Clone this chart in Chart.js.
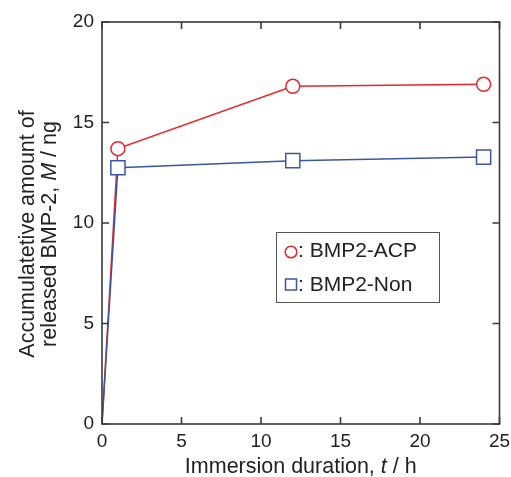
<!DOCTYPE html>
<html>
<head>
<meta charset="utf-8">
<script src="https://cdn.jsdelivr.net/npm/chart.js@4"></script>
<style>
  html, body { margin: 0; padding: 0; background: #fff; }
  #wrap { width: 511px; height: 477px; }
</style>
</head>
<body>
<div id="wrap"><canvas id="chart" width="511" height="477"></canvas></div>
<script>
const hours = [0, 1, 12, 24];
const acpValues = [0, 13.7, 16.8, 16.9];
const nonValues = [0, 12.75, 13.1, 13.28];
const xTicks = [0, 5, 10, 15, 20, 25];
const yTicks = [0, 5, 10, 15, 20];

const RED = '#e8262b';
const BLUE = '#3b56a6';
const AXIS = '#3a3a3a';
const FONT = '"Liberation Sans", Arial, sans-serif';

function toPoints(values) {
  return hours.map((h, i) => ({ x: h, y: values[i] }));
}

// draws box, inward ticks, axis titles and the legend box
const framePlugin = {
  id: 'frame',
  afterDraw(chart) {
    const ctx = chart.ctx;
    const area = chart.chartArea;
    const xs = chart.scales.x;
    const ys = chart.scales.y;
    ctx.save();
    ctx.strokeStyle = AXIS;
    ctx.lineWidth = 1.6;
    ctx.strokeRect(area.left, area.top, area.right - area.left, area.bottom - area.top);

    const tick = 7;
    ctx.beginPath();
    xTicks.forEach((v) => {
      const px = xs.getPixelForValue(v);
      ctx.moveTo(px, area.bottom);
      ctx.lineTo(px, area.bottom - tick);
      ctx.moveTo(px, area.top);
      ctx.lineTo(px, area.top + tick);
    });
    yTicks.forEach((v) => {
      const py = ys.getPixelForValue(v);
      ctx.moveTo(area.left, py);
      ctx.lineTo(area.left + tick, py);
      ctx.moveTo(area.right, py);
      ctx.lineTo(area.right - tick, py);
    });
    ctx.stroke();

    // x title with italic t
    ctx.fillStyle = '#222';
    ctx.textBaseline = 'alphabetic';
    const parts = [
      ['Immersion duration, ', 'normal'],
      ['t', 'italic'],
      [' / h', 'normal']
    ];
    drawMixed(ctx, parts, (area.left + area.right) / 2, 473, 21.5);

    // y title, two lines, rotated
    ctx.save();
    ctx.translate(0, 234);
    ctx.rotate(-Math.PI / 2);
    drawMixed(ctx, [['Accumulatetive amount of', 'normal']], 0, 34, 21.5);
    drawMixed(ctx, [['released BMP-2, ', 'normal'], ['M', 'italic'], [' / ng', 'normal']], 0, 56, 21.5);
    ctx.restore();

    // legend
    ctx.strokeStyle = '#555';
    ctx.lineWidth = 1;
    ctx.strokeRect(276.5, 232.5, 163, 70);
    ctx.lineWidth = 1.5;
    ctx.strokeStyle = RED;
    ctx.beginPath();
    ctx.arc(291, 252, 5.8, 0, Math.PI * 2);
    ctx.stroke();
    ctx.strokeStyle = BLUE;
    ctx.strokeRect(285.5, 279, 11, 11);
    ctx.fillStyle = '#222';
    ctx.font = '21px ' + FONT;
    ctx.textAlign = 'left';
    ctx.textBaseline = 'middle';
    ctx.fillText(': BMP2-ACP', 298, 251);
    ctx.fillText(': BMP2-Non', 298, 285);
    ctx.restore();
  }
};

function drawMixed(ctx, parts, cx, y, size) {
  let total = 0;
  parts.forEach(([text, style]) => {
    ctx.font = style + ' ' + size + 'px ' + FONT;
    total += ctx.measureText(text).width;
  });
  let x = cx - total / 2;
  ctx.textAlign = 'left';
  parts.forEach(([text, style]) => {
    ctx.font = style + ' ' + size + 'px ' + FONT;
    ctx.fillText(text, x, y);
    x += ctx.measureText(text).width;
  });
}

new Chart(document.getElementById('chart'), {
  type: 'line',
  data: {
    datasets: [
      {
        label: 'BMP2-Non',
        data: toPoints(nonValues),
        borderColor: BLUE,
        borderWidth: 1.5,
        backgroundColor: '#fff',
        pointStyle: 'rect',
        pointRadius: [0, 10, 10, 10],
        pointBorderWidth: 1.5,
        pointBorderColor: BLUE,
        pointBackgroundColor: '#fff',
        tension: 0
      },
      {
        label: 'BMP2-ACP',
        data: toPoints(acpValues),
        borderColor: RED,
        borderWidth: 1.5,
        backgroundColor: '#fff',
        pointStyle: 'circle',
        pointRadius: [0, 7, 7, 7],
        pointBorderWidth: 1.5,
        pointBorderColor: RED,
        pointBackgroundColor: '#fff',
        tension: 0
      }
    ]
  },
  options: {
    responsive: false,
    animation: false,
    layout: { padding: { top: 22, right: 7, left: 0, bottom: 0 } },
    plugins: {
      legend: { display: false },
      tooltip: { enabled: false }
    },
    scales: {
      x: {
        type: 'linear',
        min: 0,
        max: 25,
        afterBuildTicks: (scale) => { scale.ticks = xTicks.map((v) => ({ value: v })); },
        afterFit: (scale) => {
          scale.height = 53;
          scale.paddingLeft = 0;
          scale.paddingRight = 0;
        },
        grid: { display: false, drawTicks: false },
        border: { display: false },
        ticks: { color: '#222', padding: 6, font: { family: FONT, size: 19 } }
      },
      y: {
        type: 'linear',
        min: 0,
        max: 20,
        afterBuildTicks: (scale) => { scale.ticks = yTicks.map((v) => ({ value: v })); },
        afterFit: (scale) => {
          scale.width = 102;
          scale.paddingTop = 0;
          scale.paddingBottom = 0;
        },
        grid: { display: false, drawTicks: false },
        border: { display: false },
        ticks: { color: '#222', padding: 8, font: { family: FONT, size: 19 } }
      }
    }
  },
  plugins: [framePlugin]
});
</script>
</body>
</html>
